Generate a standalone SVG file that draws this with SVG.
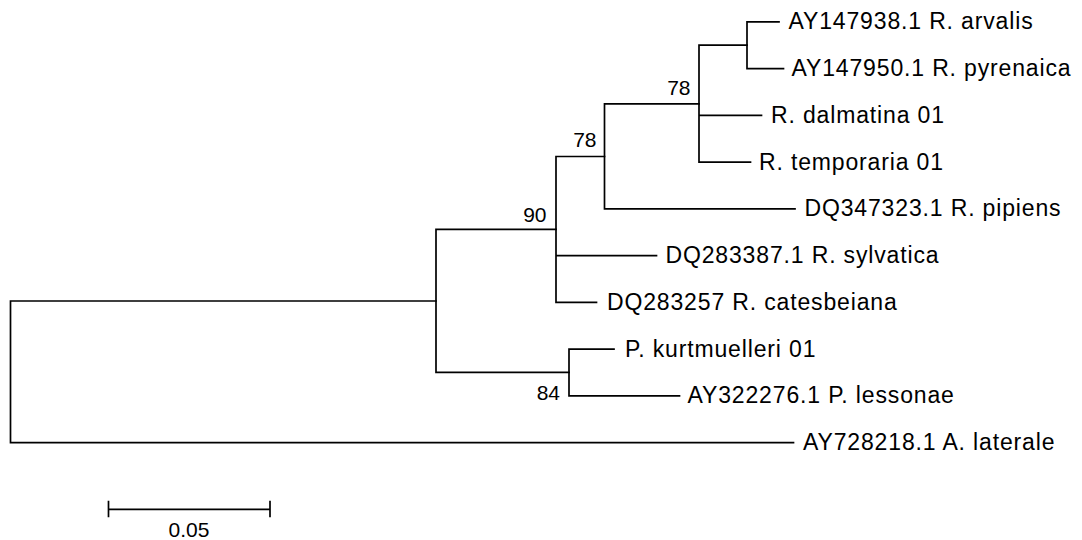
<svg xmlns="http://www.w3.org/2000/svg" width="1082" height="540" viewBox="0 0 1082 540">
  <style>
    .br { fill: none; stroke: #000; stroke-width: 1.7; stroke-linecap: square; }
    .lbl { font-family: "Liberation Sans", Arial, sans-serif; font-size: 23px; letter-spacing: 0.85px; fill: #000; }
    .bs { font-family: "Liberation Sans", Arial, sans-serif; font-size: 21px; fill: #000; text-anchor: end; }
    .sc { font-family: "Liberation Sans", Arial, sans-serif; font-size: 21px; fill: #000; text-anchor: middle; }
  </style>
  <rect width="1082" height="540" fill="#fff"/>
  <g id="connectors">
    <path class="br" d="M436,301 H10.5 V442.6 H793.5"/>
    <path class="br" d="M556,229.4 H436 V372.4 H569"/>
    <path class="br" d="M604.5,156.5 H556 V302.3 H596.5 M556,255.6 H656.5"/>
    <path class="br" d="M699,103.9 H604.5 V208.8 H795"/>
    <path class="br" d="M747,45.2 H699 V162.1 H750.5 M699,115.3 H761.5"/>
    <path class="br" d="M779,21.8 H747 V68.6 H783.5"/>
    <path class="br" d="M614,349.1 H569 V395.8 H679.5"/>
  </g>
  <g id="leaf-arvalis"><text class="lbl" x="788.5" y="29.3">AY147938.1 R. arvalis</text></g>
  <g id="leaf-pyrenaica"><text class="lbl" x="791.5" y="76.1">AY147950.1 R. pyrenaica</text></g>
  <g id="leaf-dalmatina"><text class="lbl" x="771" y="122.8">R. dalmatina 01</text></g>
  <g id="leaf-temporaria"><text class="lbl" x="759" y="169.6">R. temporaria 01</text></g>
  <g id="leaf-pipiens"><text class="lbl" x="804.5" y="216.3">DQ347323.1 R. pipiens</text></g>
  <g id="leaf-sylvatica"><text class="lbl" x="665.5" y="263.1">DQ283387.1 R. sylvatica</text></g>
  <g id="leaf-catesbeiana"><text class="lbl" x="607" y="309.8">DQ283257 R. catesbeiana</text></g>
  <g id="leaf-kurtmuelleri"><text class="lbl" x="625" y="356.6">P. kurtmuelleri 01</text></g>
  <g id="leaf-lessonae"><text class="lbl" x="687.5" y="403.3">AY322276.1 P. lessonae</text></g>
  <g id="leaf-laterale"><text class="lbl" x="803" y="450.1">AY728218.1 A. laterale</text></g>
  <g id="bootstrap">
    <text class="bs" x="690.5" y="95">78</text>
    <text class="bs" x="596.5" y="147">78</text>
    <text class="bs" x="546.5" y="222">90</text>
    <text class="bs" x="560" y="400">84</text>
  </g>
  <g id="scale-bar">
    <path class="br" d="M108.5,509.3 H270 M108.5,500.7 V517.3 M270,500.7 V517.3" style="stroke-linecap:butt"/>
    <text class="sc" x="189" y="537">0.05</text>
  </g>
</svg>
